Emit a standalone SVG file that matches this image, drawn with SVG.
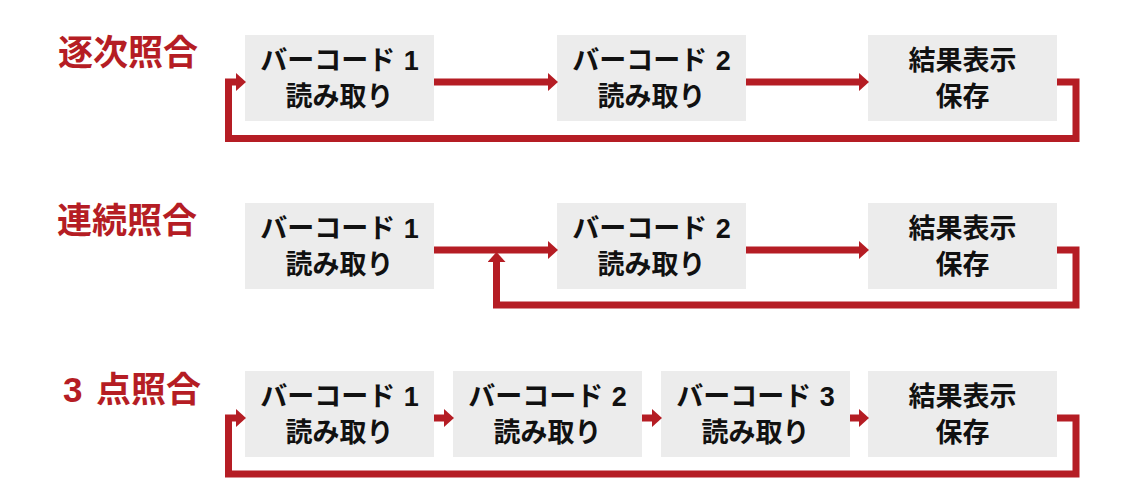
<svg xmlns="http://www.w3.org/2000/svg" width="1140" height="501" viewBox="0 0 1140 501">
<style>
.bg{fill:#ffffff}
.box{fill:#ececec}
.lbl{font-family:"Liberation Sans","Noto Sans CJK JP",sans-serif;font-weight:700;font-size:27px;fill:#111111;text-anchor:middle}
.ttl{font-family:"Liberation Sans","Noto Sans CJK JP",sans-serif;font-weight:700;font-size:35px;fill:#b51d24}
.ln{fill:none;stroke:#b51d24;stroke-width:7;stroke-linejoin:miter;stroke-linecap:butt}
</style>
<defs>
<marker id="ah" viewBox="0 0 10 18" refX="0" refY="9" markerWidth="10" markerHeight="18" markerUnits="userSpaceOnUse" orient="auto">
<path d="M0,0 L10,9 L0,18 Z" fill="#b51d24"/>
</marker>
</defs>
<rect class="bg" x="0" y="0" width="1140" height="501"/>

<g id="title1"><text class="ttl" x="58" y="65">逐次照合</text></g>
<g id="title2"><text class="ttl" x="57" y="233">連続照合</text></g>
<g id="title3"><text class="ttl" x="63" y="402" font-size="37">3 <tspan x="96" font-size="35">点照合</tspan></text></g>

<g id="r1n1"><rect class="box" x="245" y="35" width="189" height="86"/><text class="lbl" x="339.5" y="70">バーコード <tspan dx="1">1</tspan></text><text class="lbl" x="339.5" y="106">読み取り</text></g>
<g id="r1n2"><rect class="box" x="557" y="35" width="189" height="86"/><text class="lbl" x="651.5" y="70">バーコード <tspan dx="1">2</tspan></text><text class="lbl" x="651.5" y="106">読み取り</text></g>
<g id="r1n3"><rect class="box" x="868" y="35" width="189" height="86"/><text class="lbl" x="962.5" y="70">結果表示</text><text class="lbl" x="962.5" y="106">保存</text></g>

<g id="r2n1"><rect class="box" x="245" y="203" width="189" height="86"/><text class="lbl" x="339.5" y="238">バーコード <tspan dx="1">1</tspan></text><text class="lbl" x="339.5" y="274">読み取り</text></g>
<g id="r2n2"><rect class="box" x="557" y="203" width="189" height="86"/><text class="lbl" x="651.5" y="238">バーコード <tspan dx="1">2</tspan></text><text class="lbl" x="651.5" y="274">読み取り</text></g>
<g id="r2n3"><rect class="box" x="868" y="203" width="189" height="86"/><text class="lbl" x="962.5" y="238">結果表示</text><text class="lbl" x="962.5" y="274">保存</text></g>

<g id="r3n1"><rect class="box" x="245" y="371" width="189" height="86"/><text class="lbl" x="339.5" y="406">バーコード <tspan dx="1">1</tspan></text><text class="lbl" x="339.5" y="442">読み取り</text></g>
<g id="r3n2"><rect class="box" x="453" y="371" width="189" height="86"/><text class="lbl" x="547.5" y="406">バーコード <tspan dx="1">2</tspan></text><text class="lbl" x="547.5" y="442">読み取り</text></g>
<g id="r3n3"><rect class="box" x="661" y="371" width="189" height="86"/><text class="lbl" x="755.5" y="406">バーコード <tspan dx="1">3</tspan></text><text class="lbl" x="755.5" y="442">読み取り</text></g>
<g id="r3n4"><rect class="box" x="868" y="371" width="189" height="86"/><text class="lbl" x="962.5" y="406">結果表示</text><text class="lbl" x="962.5" y="442">保存</text></g>

<g id="connectors">
<path class="ln" marker-end="url(#ah)" d="M434,82 H548"/>
<path class="ln" marker-end="url(#ah)" d="M746,82 H859"/>
<path class="ln" marker-end="url(#ah)" d="M1057,82 H1076 V138.5 H228.5 V82 H236"/>

<path class="ln" marker-end="url(#ah)" d="M434,250 H548"/>
<path class="ln" marker-end="url(#ah)" d="M746,250 H859"/>
<path class="ln" marker-end="url(#ah)" d="M1057,250 H1076 V305 H496.5 V262"/>

<path class="ln" marker-end="url(#ah)" d="M434,418 H444"/>
<path class="ln" marker-end="url(#ah)" d="M642,418 H652"/>
<path class="ln" marker-end="url(#ah)" d="M850,418 H859"/>
<path class="ln" marker-end="url(#ah)" d="M1057,418 H1076 V474 H228.5 V418 H236"/>
</g>
</svg>
